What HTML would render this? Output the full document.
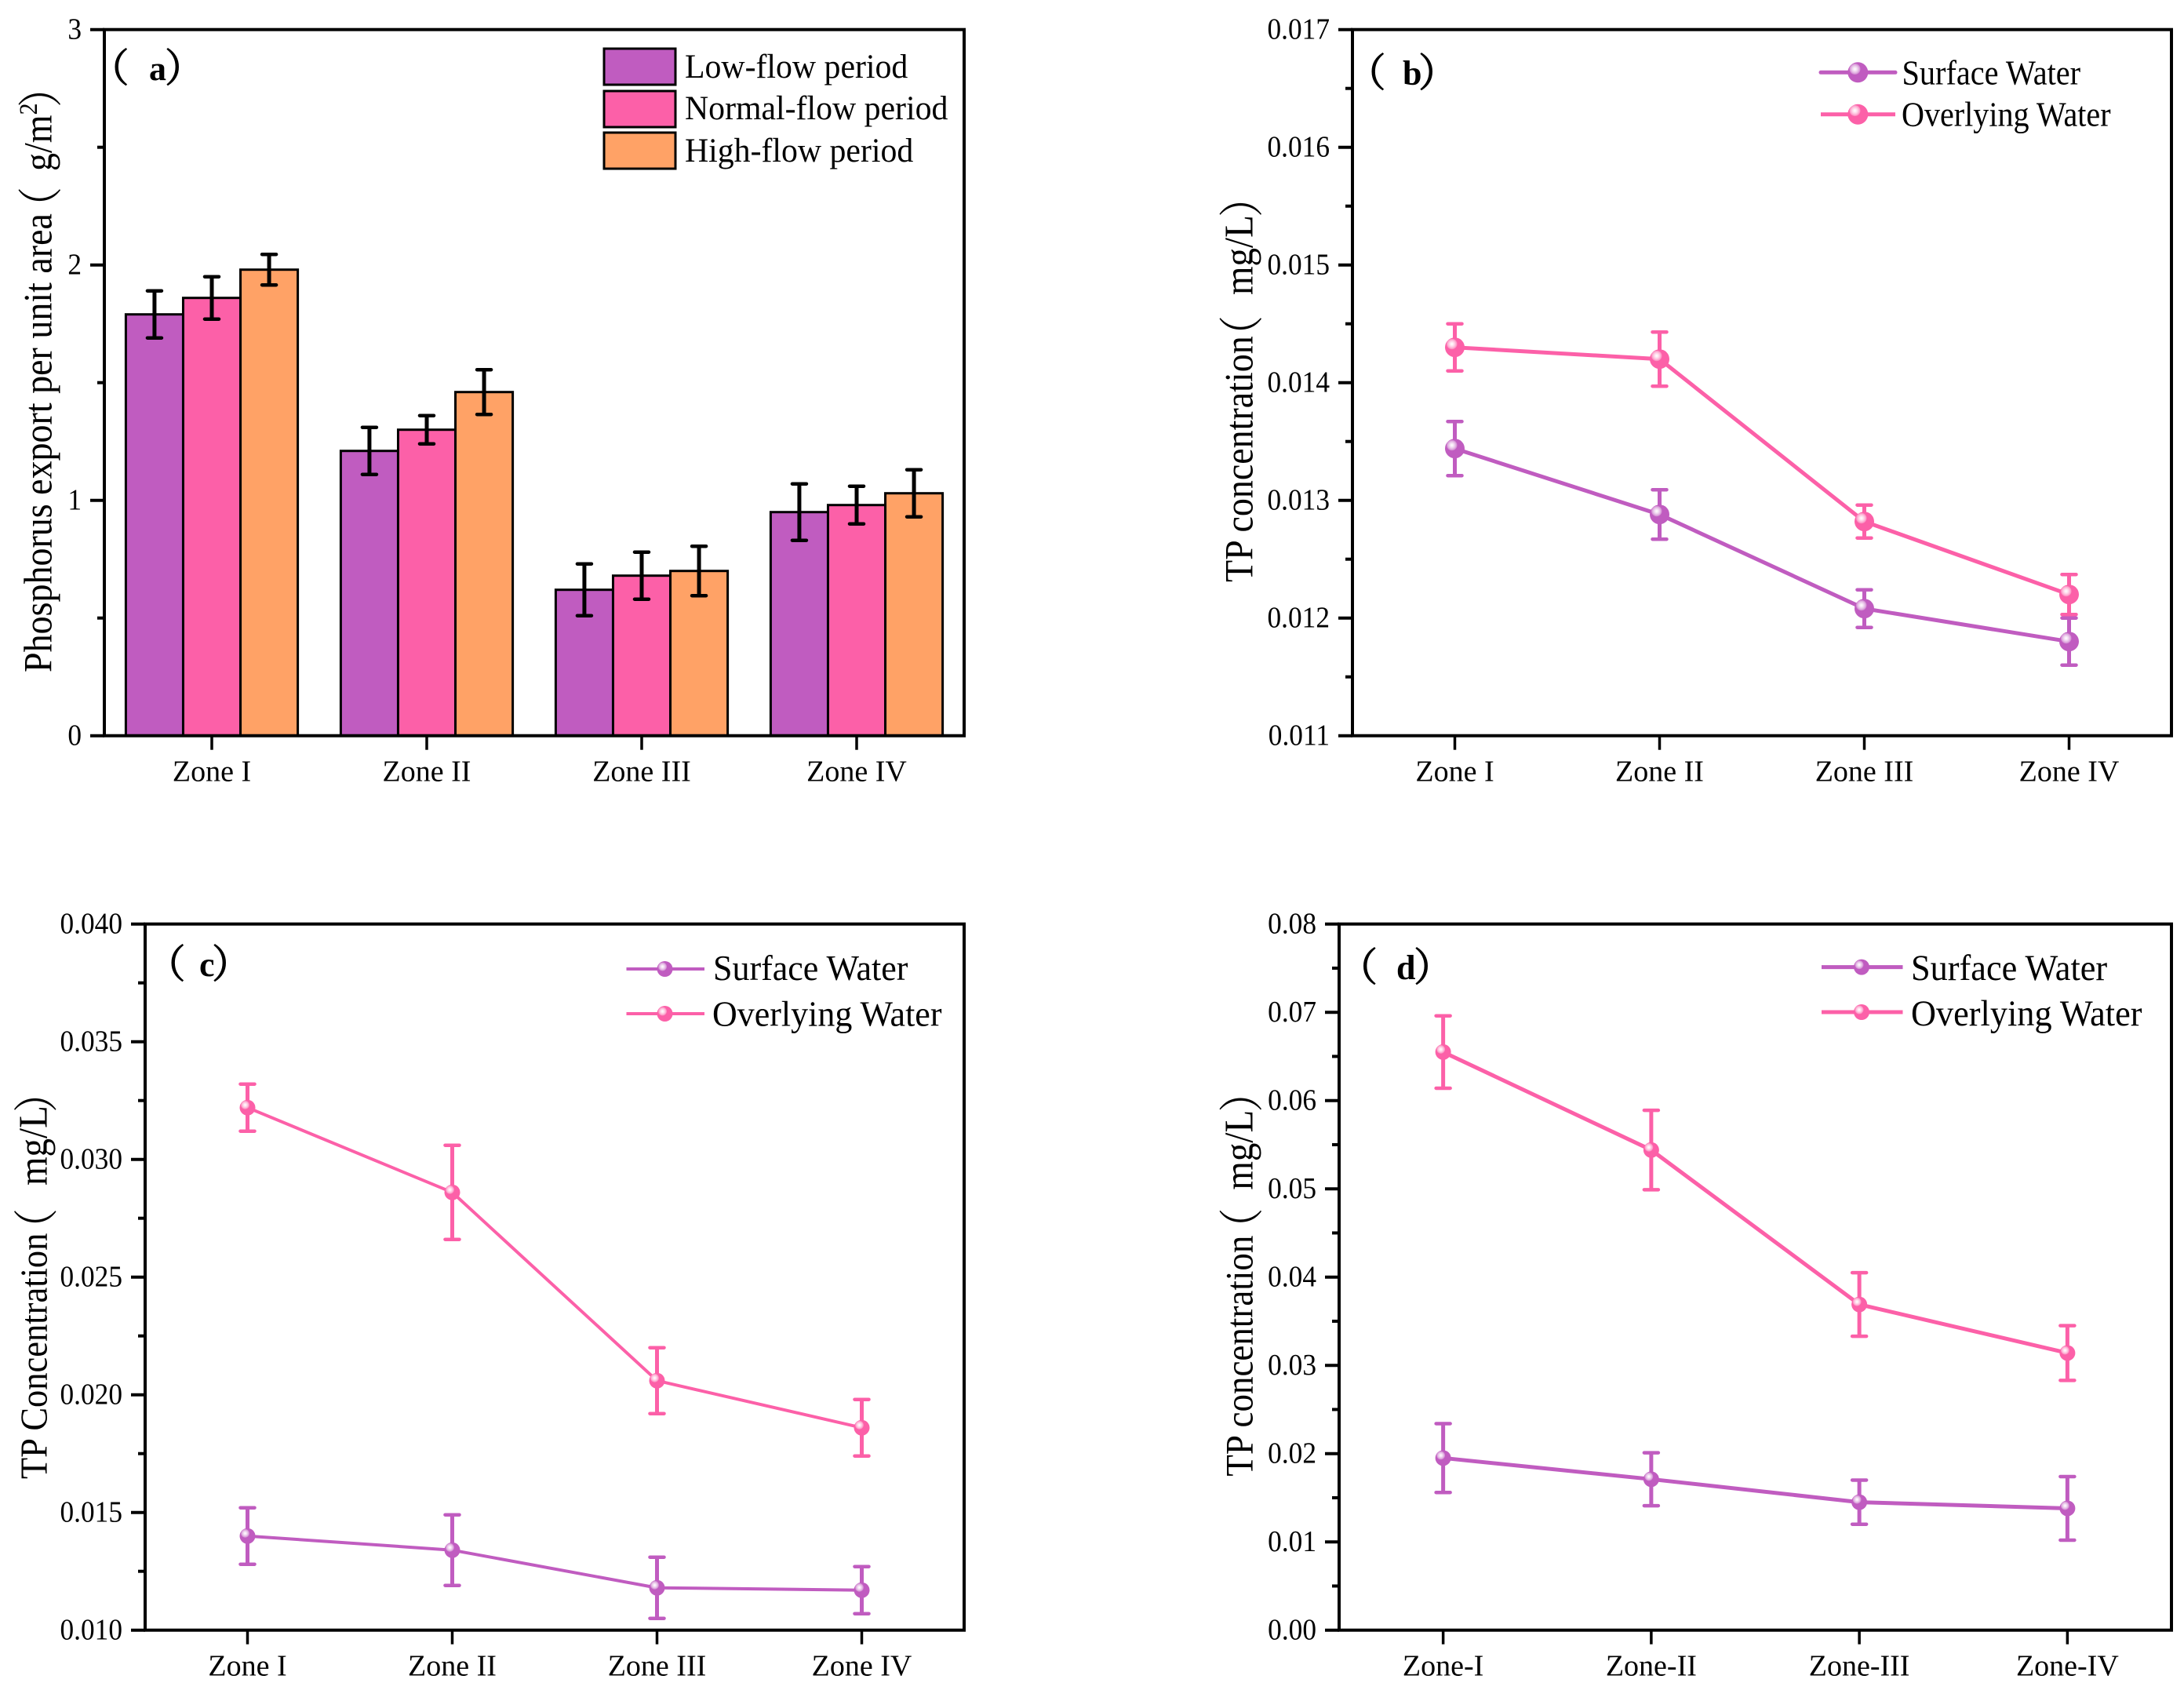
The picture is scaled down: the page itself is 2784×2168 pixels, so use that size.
<!DOCTYPE html>
<html lang="en">
<head>
<meta charset="utf-8">
<title>Phosphorus export and TP concentration by zone</title>
<style>
html,body{margin:0;padding:0;background:#fff;}
svg{display:block;}
text{font-family:"Liberation Serif","Noto Serif CJK SC",serif;fill:#000;}
</style>
</head>
<body>
<svg id="figure" xmlns="http://www.w3.org/2000/svg" width="2784" height="2168" viewBox="0 0 2784 2168">
  <defs>
    <radialGradient id="sphere-highlight" cx="0.5" cy="0.5" r="0.5">
      <stop offset="0" stop-color="#fff" stop-opacity="1"/>
      <stop offset="0.3" stop-color="#fff" stop-opacity="0.85"/>
      <stop offset="0.65" stop-color="#fff" stop-opacity="0.6"/>
      <stop offset="1" stop-color="#fff" stop-opacity="0.25"/>
    </radialGradient>
  </defs>
  <rect x="0" y="0" width="2784" height="2168" fill="#fff"/>

  <g id="panel-a"></g>
  <g id="panel-b"></g>
  <g id="panel-c"></g>
  <g id="panel-d"></g>

  <!-- Panel labels -->
  <text y="102" font-size="44" font-weight="bold"><tspan x="114.5" dy="2" font-size="50" font-weight="normal" stroke="#000" stroke-width="1.1">（</tspan><tspan x="190" dy="-2">a</tspan><tspan x="210" dy="2" font-size="50" font-weight="normal" stroke="#000" stroke-width="1.1">）</tspan></text>
  <text y="108" font-size="44" font-weight="bold"><tspan x="1716.5" dy="2" font-size="50" font-weight="normal" stroke="#000" stroke-width="1.1">（</tspan><tspan x="1788" dy="-2">b</tspan><tspan x="1808" dy="2" font-size="50" font-weight="normal" stroke="#000" stroke-width="1.1">）</tspan></text>
  <text y="1244" font-size="44" font-weight="bold"><tspan x="186.5" dy="2" font-size="50" font-weight="normal" stroke="#000" stroke-width="1.1">（</tspan><tspan x="254" dy="-2">c</tspan><tspan x="270" dy="2" font-size="50" font-weight="normal" stroke="#000" stroke-width="1.1">）</tspan></text>
  <text y="1248" font-size="44" font-weight="bold"><tspan x="1706" dy="2" font-size="50" font-weight="normal" stroke="#000" stroke-width="1.1">（</tspan><tspan x="1780" dy="-2">d</tspan><tspan x="1802" dy="2" font-size="50" font-weight="normal" stroke="#000" stroke-width="1.1">）</tspan></text>

  <!-- Y axis titles -->
  <text transform="translate(65.6,857) rotate(-90) scale(1,1.1)" font-size="46">Phosphorus export per unit area<tspan x="567" dy="6" font-size="52">（</tspan><tspan x="639" dy="-6">g/m</tspan><tspan dy="-17" font-size="30">2</tspan><tspan x="720" dy="23" font-size="52">）</tspan></text>
  <text transform="translate(1596.6,742) rotate(-90) scale(1,1.1)" font-size="46">TP concentration<tspan x="288" dy="6" font-size="52">（</tspan><tspan x="366" dy="-6" font-size="47">mg/L</tspan><tspan x="465" dy="6" font-size="52">）</tspan></text>
  <text transform="translate(59.7,1885) rotate(-90) scale(1,1.1)" font-size="44.5">TP Concentration<tspan x="293" dy="6" font-size="52">（</tspan><tspan x="374" dy="-6" font-size="47">mg/L</tspan><tspan x="467" dy="6" font-size="52">）</tspan></text>
  <text transform="translate(1596.6,1881.6) rotate(-90) scale(1,1.1)" font-size="45">TP concentration<tspan x="290" dy="6" font-size="52">（</tspan><tspan x="365" dy="-6" font-size="47">mg/L</tspan><tspan x="464" dy="6" font-size="52">）</tspan></text>

  <!-- Legend a -->
  <g>
    <rect x="770" y="62" width="91" height="46" fill="#C05CC0" stroke="#000" stroke-width="3"/>
    <rect x="770" y="116" width="91" height="46" fill="#FC60A8" stroke="#000" stroke-width="3"/>
    <rect x="770" y="169" width="91" height="46" fill="#FFA266" stroke="#000" stroke-width="3"/>
    <text transform="translate(873,99) scale(1,1.05)" font-size="41.8">Low-flow period</text>
    <text transform="translate(873,152) scale(1,1.05)" font-size="41.8">Normal-flow period</text>
    <text transform="translate(873,206) scale(1,1.05)" font-size="41.8">High-flow period</text>
  </g>

  <!-- Legend b -->
  <g>
    <line x1="2321" y1="92.3" x2="2416" y2="92.3" stroke="#C05CC0" stroke-width="5" stroke-linecap="round"/>
    <circle cx="2368.3" cy="92.3" r="13" fill="#C05CC0"/>
    <circle cx="2364.5" cy="88" r="7" fill="url(#sphere-highlight)"/>
    <line x1="2321" y1="145.7" x2="2416" y2="145.7" stroke="#FC60A8" stroke-width="5"/>
    <circle cx="2368.3" cy="145.7" r="13" fill="#FC60A8"/>
    <circle cx="2364.5" cy="141" r="7" fill="url(#sphere-highlight)"/>
    <text transform="translate(2424.5,107.7) scale(1,1.1)" font-size="40.3">Surface Water</text>
    <text transform="translate(2424,160.7) scale(1,1.1)" font-size="40.1">Overlying Water</text>
  </g>

  <!-- Legend c -->
  <g>
    <line x1="798.5" y1="1235" x2="898" y2="1235" stroke="#C05CC0" stroke-width="4"/>
    <circle cx="847.5" cy="1235" r="10" fill="#C05CC0"/>
    <circle cx="844.5" cy="1232" r="5.5" fill="url(#sphere-highlight)"/>
    <line x1="798.5" y1="1292" x2="898" y2="1292" stroke="#FC60A8" stroke-width="4"/>
    <circle cx="847.5" cy="1292" r="10" fill="#FC60A8"/>
    <circle cx="844.5" cy="1289" r="5.5" fill="url(#sphere-highlight)"/>
    <text transform="translate(909,1249) scale(1,1.04)" font-size="44">Surface Water</text>
    <text transform="translate(908,1307.5) scale(1,1.04)" font-size="44">Overlying Water</text>
  </g>

  <!-- Legend d -->
  <g>
    <line x1="2322" y1="1232.6" x2="2425.5" y2="1232.6" stroke="#C05CC0" stroke-width="5"/>
    <circle cx="2373" cy="1232.6" r="10" fill="#C05CC0"/>
    <circle cx="2370" cy="1229.6" r="5.5" fill="url(#sphere-highlight)"/>
    <line x1="2322" y1="1290" x2="2425.5" y2="1290" stroke="#FC60A8" stroke-width="5"/>
    <circle cx="2373" cy="1290" r="10" fill="#FC60A8"/>
    <circle cx="2370" cy="1287" r="5.5" fill="url(#sphere-highlight)"/>
    <text transform="translate(2436,1249) scale(1,1.04)" font-size="44.3">Surface Water</text>
    <text transform="translate(2436,1307) scale(1,1.04)" font-size="44.3">Overlying Water</text>
  </g>
</svg>

<script>
// ---- Panel (a) data ----
var zonesA = ['Zone I', 'Zone II', 'Zone III', 'Zone IV'];
var yTickLabelsA = ['0', '1', '2', '3'];
var lowFlow = [1.79, 1.21, 0.62, 0.95];
var normalFlow = [1.86, 1.30, 0.68, 0.98];
var highFlow = [1.98, 1.46, 0.70, 1.03];
var lowFlowErr = [0.10, 0.10, 0.11, 0.12];
var normalFlowErr = [0.09, 0.06, 0.10, 0.08];
var highFlowErr = [0.065, 0.095, 0.105, 0.10];

// ---- Panel (b) data ----
var zonesB = ['Zone I', 'Zone II', 'Zone III', 'Zone IV'];
var yTickLabelsB = ['0.011', '0.012', '0.013', '0.014', '0.015', '0.016', '0.017'];
var surfaceB = [0.01344, 0.01288, 0.01208, 0.0118];
var surfaceErrB = [0.00023, 0.00021, 0.00016, 0.0002];
var overlyingB = [0.0143, 0.0142, 0.01282, 0.0122];
var overlyingErrB = [0.0002, 0.00023, 0.00014, 0.00017];

// ---- Panel (c) data ----
var zonesC = ['Zone I', 'Zone II', 'Zone III', 'Zone IV'];
var yTickLabelsC = ['0.010', '0.015', '0.020', '0.025', '0.030', '0.035', '0.040'];
var surfaceC = [0.014, 0.0134, 0.0118, 0.0117];
var surfaceErrC = [0.0012, 0.0015, 0.0013, 0.001];
var overlyingC = [0.0322, 0.0286, 0.0206, 0.0186];
var overlyingErrC = [0.001, 0.002, 0.0014, 0.0012];

// ---- Panel (d) data ----
var zonesD = ['Zone-I', 'Zone-II', 'Zone-III', 'Zone-IV'];
var yTickLabelsD = ['0.00', '0.01', '0.02', '0.03', '0.04', '0.05', '0.06', '0.07', '0.08'];
var surfaceD = [0.0195, 0.0171, 0.0145, 0.0138];
var surfaceErrD = [0.0039, 0.003, 0.0025, 0.0036];
var overlyingD = [0.0655, 0.0544, 0.0369, 0.0314];
var overlyingErrD = [0.0041, 0.0045, 0.0036, 0.0031];

var PURPLE = '#C05CC0';
var PINK = '#FC60A8';
var ORANGE = '#FFA266';
var NS = 'http://www.w3.org/2000/svg';

function make(tag, parent, attrs) {
  var node = document.createElementNS(NS, tag);
  for (var k in attrs) { node.setAttribute(k, attrs[k]); }
  parent.appendChild(node);
  return node;
}

function linearScale(d0, d1, r0, r1) {
  return function (v) { return r0 + (v - d0) / (d1 - d0) * (r1 - r0); };
}

function bandCenter(frame, count) {
  return function (i) { return frame.left + (i + 0.5) * (frame.right - frame.left) / count; };
}

function drawAxes(g, frame, categories, tickLabels, prefix) {
  var values = tickLabels.map(parseFloat);
  var y = linearScale(values[0], values[values.length - 1], frame.bottom, frame.top);
  var x = bandCenter(frame, categories.length);

  values.forEach(function (v, i) {
    var tick = make('line', g, { x1: frame.left - 18, x2: frame.left, y1: y(v), y2: y(v), stroke: '#000', 'stroke-width': 4 });
    
    
    var label = make('text', g, { transform: 'translate(' + (frame.left - 29) + ',' + (y(v) + 12) + ') scale(0.93,1)', 'text-anchor': 'end', 'font-size': 38 });
    label.textContent = tickLabels[i];
    
    
    if (i < values.length - 1) {
      var mid = (v + values[i + 1]) / 2;
      var minor = make('line', g, { x1: frame.left - 9, x2: frame.left, y1: y(mid), y2: y(mid), stroke: '#000', 'stroke-width': 4 });
      
      
    }
  });

  categories.forEach(function (c, i) {
    var tick = make('line', g, { x1: x(i), x2: x(i), y1: frame.bottom, y2: frame.bottom + 18, stroke: '#000', 'stroke-width': 3.5 });
    
    
    var label = make('text', g, { x: x(i), y: frame.bottom + 58, 'text-anchor': 'middle', 'font-size': 38 });
    label.textContent = c;
    
    
  });
  return y;
}

function drawFrame(g, frame, prefix) {
  var box = make('rect', g, { x: frame.left, y: frame.top, width: frame.right - frame.left, height: frame.bottom - frame.top, fill: 'none', stroke: '#000', 'stroke-width': 4 });
  
  
}

function drawErrorBar(g, cx, yLo, yHi, color, width, capHalf, name) {
  var stem = make('line', g, { x1: cx, x2: cx, y1: yLo, y2: yHi, stroke: color, 'stroke-width': width });
  
  
  var capTop = make('line', g, { x1: cx - capHalf, x2: cx + capHalf, y1: yHi, y2: yHi, stroke: color, 'stroke-width': 4.5, 'stroke-linecap': 'round' });
  
  
  var capBottom = make('line', g, { x1: cx - capHalf, x2: cx + capHalf, y1: yLo, y2: yLo, stroke: color, 'stroke-width': 4.5, 'stroke-linecap': 'round' });
  
  
}

function drawBarPanel(id, frame, categories, tickLabels, seriesList) {
  var g = document.getElementById(id);
  var y = drawAxes(g, frame, categories, tickLabels, id);
  var x = bandCenter(frame, categories.length);
  var band = (frame.right - frame.left) / categories.length;
  var barW = band * 0.8 / seriesList.length;
  seriesList.forEach(function (s, si) {
    s.values.forEach(function (v, i) {
      var bx = x(i) + (si - seriesList.length / 2) * barW;
      var bar = make('rect', g, { x: bx, y: y(v), width: barW, height: y(0) - y(v), fill: s.color, stroke: '#000', 'stroke-width': 3 });
      
      
    });
  });
  seriesList.forEach(function (s, si) {
    s.values.forEach(function (v, i) {
      var cx = x(i) + (si + 0.5 - seriesList.length / 2) * barW;
      drawErrorBar(g, cx, y(v - s.err[i]), y(v + s.err[i]), '#000', 5, 9, 'bar-' + s.key);
    });
  });
  drawFrame(g, frame, id);
}

function drawLinePanel(id, frame, categories, tickLabels, seriesList, opts) {
  var g = document.getElementById(id);
  var y = drawAxes(g, frame, categories, tickLabels, id);
  var x = bandCenter(frame, categories.length);
  seriesList.forEach(function (s) {
    var pts = s.values.map(function (v, i) { return x(i) + ',' + y(v); }).join(' ');
    s.values.forEach(function (v, i) {
      drawErrorBar(g, x(i), y(v - s.err[i]), y(v + s.err[i]), s.color, 5, 9, s.key);
    });
    var line = make('polyline', g, { points: pts, fill: 'none', stroke: s.color, 'stroke-width': opts.lineWidth });
    
    
    s.values.forEach(function (v, i) {
      var dot = make('circle', g, { cx: x(i), cy: y(v), r: opts.r, fill: s.color });
      
      
      var shine = make('circle', g, { cx: x(i) - opts.r * 0.3, cy: y(v) - opts.r * 0.34, r: opts.r * 0.54, fill: 'url(#sphere-highlight)' });
      
      
    });
  });
  drawFrame(g, frame, id);
}

drawBarPanel('panel-a', { left: 133, right: 1229, top: 37.7, bottom: 937.7 }, zonesA, yTickLabelsA, [
  { key: 'low-flow', color: PURPLE, values: lowFlow, err: lowFlowErr },
  { key: 'normal-flow', color: PINK, values: normalFlow, err: normalFlowErr },
  { key: 'high-flow', color: ORANGE, values: highFlow, err: highFlowErr }
]);

drawLinePanel('panel-b', { left: 1724, right: 2768, top: 37.7, bottom: 937.7 }, zonesB, yTickLabelsB, [
  { key: 'surface-water', color: PURPLE, values: surfaceB, err: surfaceErrB },
  { key: 'overlying-water', color: PINK, values: overlyingB, err: overlyingErrB }
], { r: 12.5, lineWidth: 5 });

drawLinePanel('panel-c', { left: 185, right: 1229, top: 1177.7, bottom: 2077.7 }, zonesC, yTickLabelsC, [
  { key: 'surface-water', color: PURPLE, values: surfaceC, err: surfaceErrC },
  { key: 'overlying-water', color: PINK, values: overlyingC, err: overlyingErrC }
], { r: 10, lineWidth: 4 });

drawLinePanel('panel-d', { left: 1707, right: 2768, top: 1177.7, bottom: 2077.7 }, zonesD, yTickLabelsD, [
  { key: 'surface-water', color: PURPLE, values: surfaceD, err: surfaceErrD },
  { key: 'overlying-water', color: PINK, values: overlyingD, err: overlyingErrD }
], { r: 10, lineWidth: 5 });
</script>
</body>
</html>
